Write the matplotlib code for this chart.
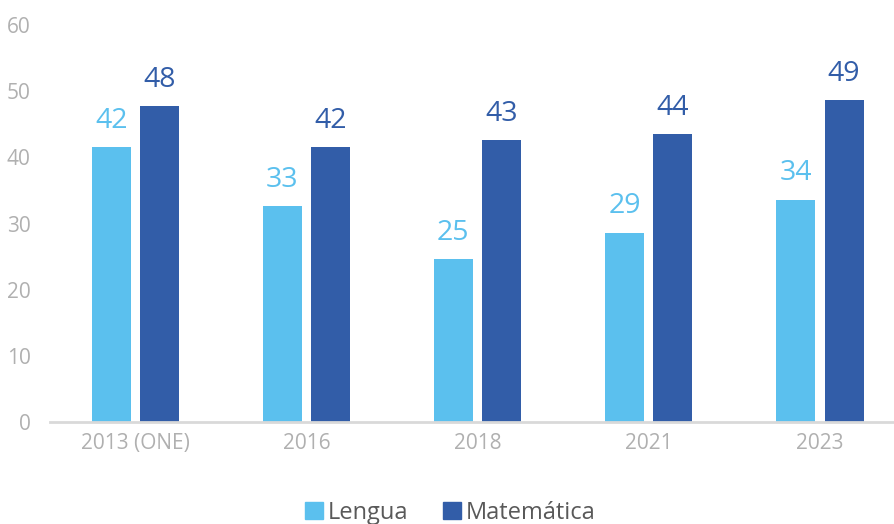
import matplotlib
matplotlib.use("Agg")
from matplotlib import pyplot as plt
from matplotlib.patches import Patch
import numpy as np

plt.rcParams["font.family"] = ["Open Sans", "DejaVu Sans"]

years = ["2013 (ONE)", "2016", "2018", "2021", "2023"]
lengua = [41.5, 32.6, 24.6, 28.6, 33.6]
matematica = [47.7, 41.5, 42.6, 43.5, 48.6]
lengua_labels = ["42", "33", "25", "29", "34"]
matematica_labels = ["48", "42", "43", "44", "49"]

c_len = "#5BC0EE"
c_mat = "#325DA8"
grey = "#B0B0B0"

fig = plt.figure(figsize=(8.95, 5.24), dpi=100)
ax = fig.add_axes([50 / 895, 102 / 524, 845 / 895, 397 / 524])

x = np.arange(len(years))
w = 0.228
off = 0.142
b1 = ax.bar(x - off, lengua, w, color=c_len)
b2 = ax.bar(x + off, matematica, w, color=c_mat)

for bars, labels, col in [(b1, lengua_labels, c_len), (b2, matematica_labels, c_mat)]:
    for rect, lab in zip(bars, labels):
        ax.annotate(lab, (rect.get_x() + rect.get_width() / 2, rect.get_height()),
                    xytext=(0, 9), textcoords="offset points", ha="center", va="bottom",
                    fontsize=20.5, color=col)

ax.set_ylim(0, 60)
ax.set_xlim(-0.5, 4.44)
ax.set_yticks(range(0, 61, 10))
ax.set_xticks(x)
ax.set_xticklabels(years)
ax.tick_params(axis="both", length=0, colors=grey, labelsize=15)
ax.tick_params(axis="y", pad=14)
ax.tick_params(axis="x", pad=8)
for s in ["top", "right", "left"]:
    ax.spines[s].set_visible(False)
ax.spines["bottom"].set_color("#D9D9D9")
ax.spines["bottom"].set_linewidth(2)

handles = [Patch(color=c_len, label="Lengua"), Patch(color=c_mat, label="Matemática")]
fig.legend(handles=handles, loc="lower center", bbox_to_anchor=(0.503, -0.042), ncol=2,
           frameon=False, fontsize=17, handlelength=0.75, handleheight=0.75,
           handletextpad=0.2, columnspacing=1.5, labelcolor="#595959")

fig.savefig("out.png", dpi=100)
